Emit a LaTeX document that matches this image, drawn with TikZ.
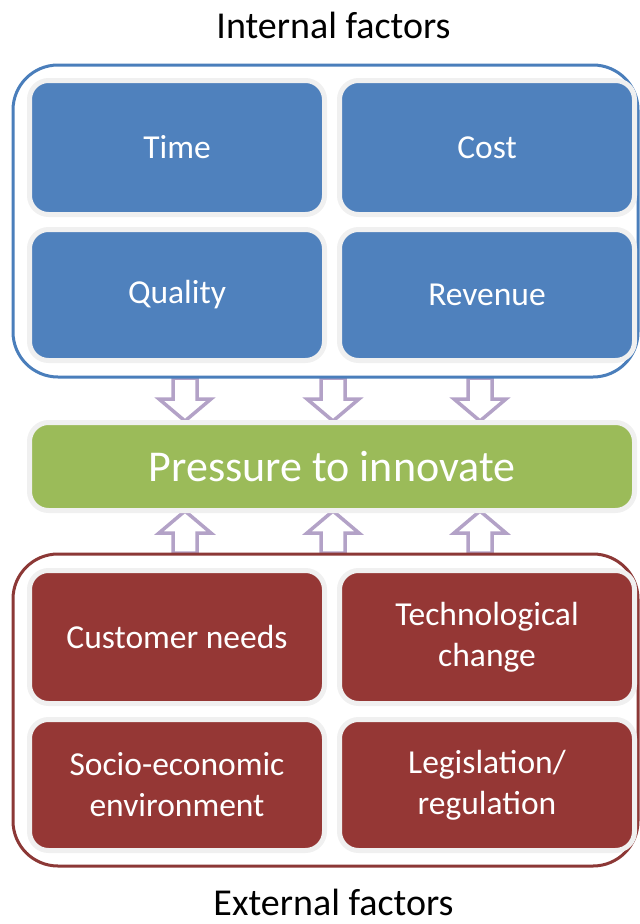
\documentclass[tikz,border=0pt]{standalone}
\usepackage{fontspec}
\setmainfont{Carlito}
\definecolor{iblue}{HTML}{4F81BD}
\definecolor{ired}{HTML}{953735}
\definecolor{igreen}{HTML}{9BBB59}
\definecolor{ipurple}{HTML}{B3A2C7}
\definecolor{ring}{HTML}{F0F0F0}
\definecolor{fblue}{HTML}{4A7EBB}
\definecolor{fred}{HTML}{8C3836}
\tikzset{
  factorbox/.style={rounded corners=19pt, line width=5pt, draw=ring, minimum width=295pt,
    inner sep=0pt, text=white, align=center, font=\fontsize{33.5}{41}\selectfont},
  bluebox/.style={factorbox, fill=iblue},
  redbox/.style={factorbox, fill=ired},
  frameline/.style={rounded corners=45pt, line width=3pt},
  blockarrow/.style={draw=ipurple, line width=3.5pt, fill=white, line join=miter},
  titletext/.style={anchor=base, inner sep=0pt, font=\fontsize{38}{46}\selectfont, text=black}
}
\begin{document}
\begin{tikzpicture}[x=1pt,y=-1pt]
\useasboundingbox (0,0) rectangle (640,924);
% titles
\node[titletext] (intl) at (333.5,38) {Internal factors};
\node[titletext] (extl) at (333.5,915) {External factors};
% arrows
\foreach \cx in {185,333,480}{
  \draw[blockarrow] ({\cx-12},378) -- ({\cx+12},378) -- ({\cx+12},399) -- ({\cx+26},399)
    -- (\cx,421) -- ({\cx-26},399) -- ({\cx-12},399) -- cycle;
  \draw[blockarrow] ({\cx-12},553) -- ({\cx+12},553) -- ({\cx+12},533) -- ({\cx+26},533)
    -- (\cx,511) -- ({\cx-26},533) -- ({\cx-12},533) -- cycle;
}
% frames
\draw[frameline, draw=fblue] (13,65) rectangle (638,377);
\draw[frameline, draw=fred] (13,554) rectangle (638,866);
% internal boxes
\node[bluebox, minimum height=134pt] (time) at (177,147.5) {Time};
\node[bluebox, minimum height=134pt] (cost) at (487,147.5) {Cost};
\node[bluebox, minimum height=131pt] (quality) at (177,295) {Quality};
\node[bluebox, minimum height=131pt] (revenue) at (487,295) {Revenue};
% pressure
\node[factorbox, fill=igreen, minimum width=605pt, minimum height=88pt,
  font=\fontsize{44}{52}\selectfont] (press) at (332,466.5) {Pressure to innovate};
% external boxes
\node[redbox, minimum height=133pt] (cust) at (177,637) {Customer needs};
\node[redbox, minimum height=133pt] (tech) at (487,637) {Technological\\change};
\node[redbox, minimum height=131pt] (socio) at (177,785) {Socio-economic\\environment};
\node[redbox, minimum height=131pt] (legis) at (487,785) {Legislation/\\regulation};
\end{tikzpicture}
\end{document}
